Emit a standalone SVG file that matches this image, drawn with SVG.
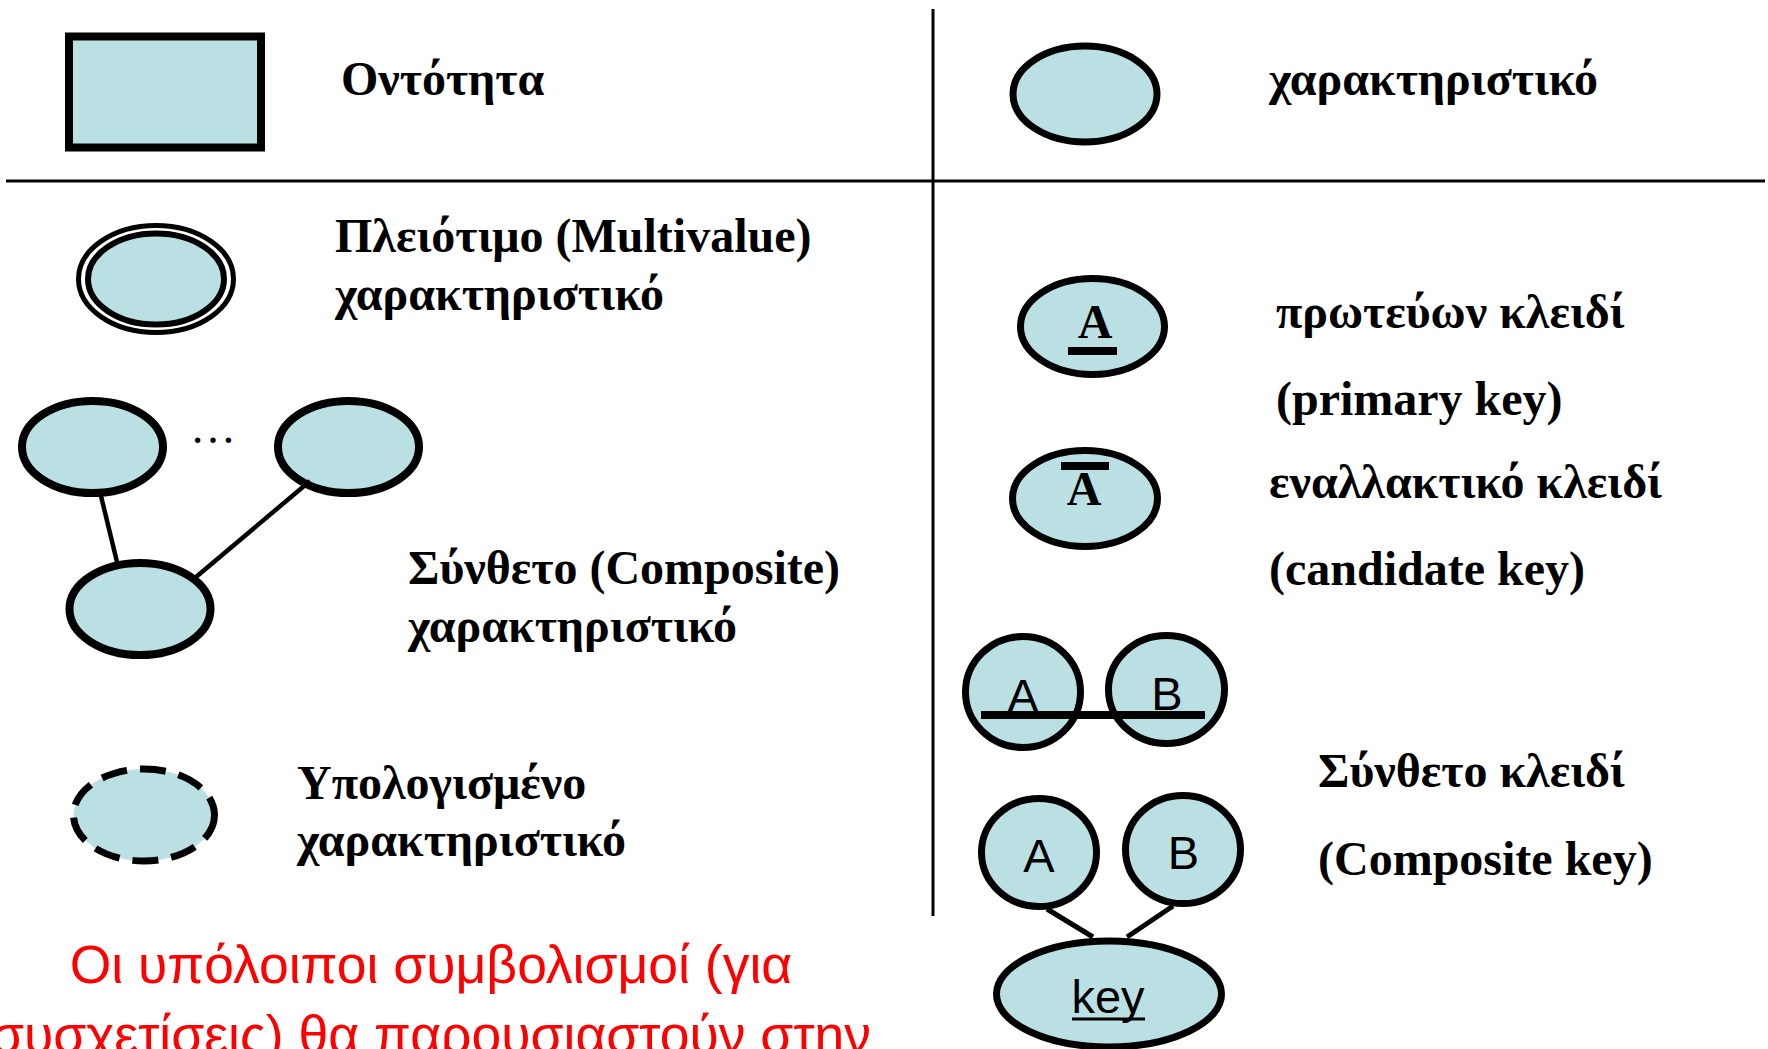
<svg xmlns="http://www.w3.org/2000/svg" width="1768" height="1049" viewBox="0 0 1768 1049">
<style>
.a{fill:#BBE0E3;stroke:#000;stroke-width:7}
.t{font-family:"Liberation Serif","DejaVu Serif",serif;font-weight:bold;font-size:48px;fill:#000}
.s{font-family:"Liberation Sans",Arial,sans-serif;font-size:47px;fill:#000}
.r{font-family:"Liberation Sans",Arial,sans-serif;font-size:53.5px;fill:#FF0000;text-anchor:middle}
.c{stroke:#000;fill:none}
</style>
<rect x="0" y="0" width="1768" height="1049" fill="#fff"/>
<g id="dividers">
<line x1="6" y1="181" x2="1765" y2="181" stroke="#000" stroke-width="3"/>
<line x1="933" y1="9" x2="933" y2="916" stroke="#000" stroke-width="3"/>
</g>
<g id="entity">
<rect x="69" y="36.5" width="192" height="111" fill="#BBE0E3" stroke="#000" stroke-width="8"/>
<text class="t" x="341" y="95">Οντότητα</text>
</g>
<g id="attribute">
<ellipse class="a" cx="1085" cy="94" rx="72" ry="48"/>
<text class="t" x="1269" y="95">χαρακτηριστικό</text>
</g>
<g id="multivalue">
<ellipse cx="156" cy="279" rx="77.5" ry="53.5" fill="#fff" stroke="#000" stroke-width="5"/>
<ellipse cx="156" cy="279" rx="68" ry="45.5" fill="#BBE0E3" stroke="#000" stroke-width="6"/>
<text class="t" x="335" y="252">Πλειότιμο (Multivalue)</text>
<text class="t" x="335" y="310">χαρακτηριστικό</text>
</g>
<g id="composite-attr">
<ellipse class="a" cx="92.5" cy="447" rx="70.5" ry="46" style="stroke-width:8"/>
<ellipse class="a" cx="348.5" cy="447" rx="70.5" ry="46" style="stroke-width:8"/>
<ellipse class="a" cx="140" cy="609" rx="70.5" ry="46" style="stroke-width:8"/>
<text x="190" y="443" font-family="Liberation Serif, serif" font-size="46" fill="#000">…</text>
<text class="t" x="408" y="584">Σύνθετο (Composite)</text>
<text class="t" x="408" y="642">χαρακτηριστικό</text>
</g>
<g id="derived">
<ellipse cx="144" cy="815" rx="70.5" ry="46" fill="#BBE0E3" stroke="#000" stroke-width="7" stroke-dasharray="26 13"/>
<text class="t" x="297" y="799">Υπολογισμένο</text>
<text class="t" x="297" y="856">χαρακτηριστικό</text>
</g>
<g id="primary-key">
<ellipse class="a" cx="1092.5" cy="326.5" rx="72" ry="48"/>
<text class="t" x="1095" y="338" text-anchor="middle" font-size="46">A</text>
<rect x="1068" y="347" width="49" height="8" fill="#000"/>
<text class="t" x="1276" y="328">πρωτεύων κλειδί</text>
<text class="t" x="1276" y="415">(primary key)</text>
</g>
<g id="candidate-key">
<ellipse class="a" cx="1085" cy="498.5" rx="72.5" ry="48"/>
<rect x="1061" y="462" width="48" height="8" fill="#000"/>
<text class="t" x="1084" y="505" text-anchor="middle" font-size="44">A</text>
<text class="t" x="1269" y="498">εναλλακτικό κλειδί</text>
<text class="t" x="1269" y="585">(candidate key)</text>
</g>
<g id="composite-key-1">
<ellipse class="a" cx="1023" cy="692" rx="57.5" ry="55.5"/>
<ellipse class="a" cx="1166.5" cy="689.5" rx="58" ry="54"/>
<text class="s" x="1023" y="712" text-anchor="middle">A</text>
<text class="s" x="1167" y="710" text-anchor="middle">B</text>
<rect x="981" y="711" width="224" height="8" fill="#000"/>
</g>
<g id="composite-key-2">
<ellipse class="a" cx="1039" cy="852.5" rx="57.5" ry="54"/>
<ellipse class="a" cx="1183" cy="849.5" rx="57.5" ry="54"/>
<ellipse class="a" cx="1109" cy="994" rx="112.5" ry="53"/>
<text class="s" x="1039" y="872" text-anchor="middle">A</text>
<text class="s" x="1183.5" y="869" text-anchor="middle">B</text>
<text class="s" x="1108" y="1013" text-anchor="middle">key</text>
<line x1="1072" y1="1019" x2="1145" y2="1019" stroke="#000" stroke-width="3"/>
<text class="t" x="1318" y="787">Σύνθετο κλειδί</text>
<text class="t" x="1318" y="875">(Composite key)</text>
</g>
<g id="connectors">
<line class="c" x1="101" y1="496" x2="117" y2="562" stroke-width="4.5"/>
<line class="c" x1="310" y1="481" x2="196" y2="577" stroke-width="4.5"/>
<line class="c" x1="1047" y1="909" x2="1093" y2="937" stroke-width="5"/>
<line class="c" x1="1173" y1="906" x2="1127" y2="937" stroke-width="5"/>
</g>
<g id="note">
<text class="r" x="431" y="983">Οι υπόλοιποι συμβολισμοί (για</text>
<text class="r" x="431" y="1053">συσχετίσεις) θα παρουσιαστούν στην</text>
</g>
</svg>
